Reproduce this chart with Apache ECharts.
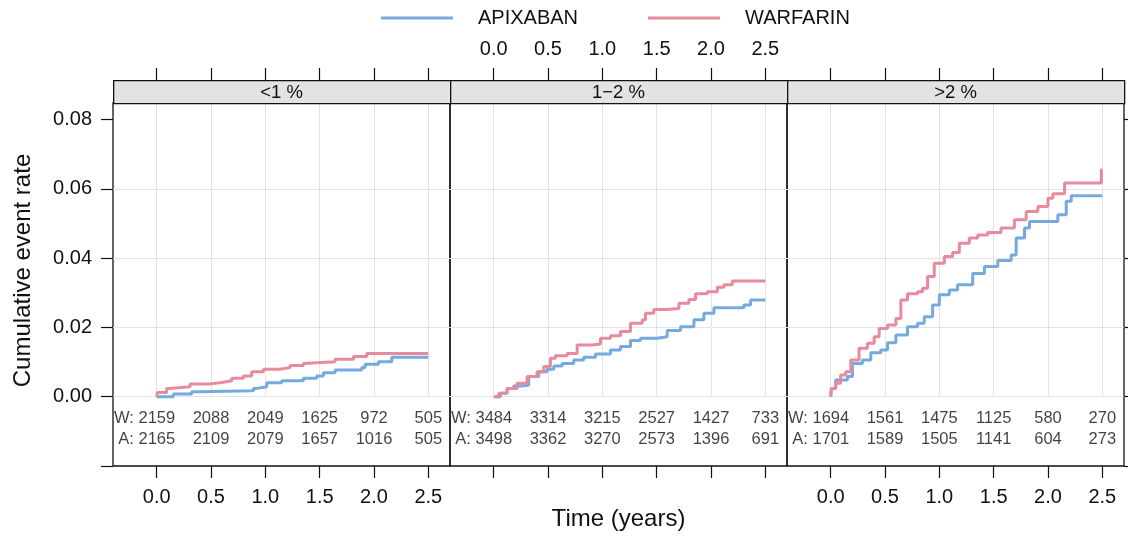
<!DOCTYPE html>
<html>
<head>
<meta charset="UTF-8">
<title>Cumulative event rate</title>
<script src="https://cdn.jsdelivr.net/npm/echarts@6/dist/echarts.min.js"></script>
<style>
html, body { margin: 0; padding: 0; background: #fff; }
#main { width: 1128px; height: 537px; }
</style>
</head>
<body>
<div id="main"></div>
<script>
// panel titles and time ticks
var panels = ['<1 %', '1\u22122 %', '>2 %'];
var times = [0, 0.5, 1, 1.5, 2, 2.5];
var yTicks = [0, 0.02, 0.04, 0.06, 0.08];

// step curves [years, cumulative rate]
var apixLow = [[0,0],[0.153,0.0008],[0.322,0.0014],[0.399,0.0017],[0.890,0.0024],[0.921,0.0029],[1.013,0.0040],[1.151,0.0046],[1.350,0.0053],[1.473,0.0060],[1.535,0.0069],[1.642,0.0077],[1.888,0.0084],[1.918,0.0094],[2.041,0.0101],[2.164,0.0114],[2.5,0.0114]];
var warfLow = [[0,0],[0.006,0.0012],[0.092,0.0024],[0.123,0.0029],[0.307,0.0037],[0.491,0.0041],[0.599,0.0046],[0.691,0.0053],[0.798,0.0060],[0.875,0.0072],[0.982,0.0079],[1.136,0.0084],[1.228,0.0090],[1.350,0.0096],[1.366,0.0101],[1.642,0.0108],[1.811,0.0116],[1.934,0.0125],[2.5,0.0125]];
var apixMid = [[0.015,0],[0.061,0.0010],[0.123,0.0024],[0.184,0.0031],[0.261,0.0034],[0.322,0.0058],[0.415,0.0072],[0.491,0.0079],[0.553,0.0089],[0.630,0.0096],[0.737,0.0106],[0.829,0.0114],[0.937,0.0123],[1.075,0.0135],[1.167,0.0145],[1.259,0.0162],[1.351,0.0169],[1.505,0.0173],[1.597,0.0191],[1.720,0.0202],[1.843,0.0222],[1.935,0.0241],[2.027,0.0257],[2.303,0.0265],[2.365,0.0279],[2.5,0.0279]];
var warfMid = [[0,0],[0.046,0.0010],[0.123,0.0024],[0.215,0.0039],[0.307,0.0058],[0.399,0.0072],[0.461,0.0087],[0.522,0.0111],[0.568,0.0118],[0.676,0.0125],[0.768,0.0149],[0.906,0.0152],[0.983,0.0169],[1.075,0.0176],[1.167,0.0188],[1.259,0.0212],[1.367,0.0222],[1.397,0.0241],[1.474,0.0252],[1.597,0.0255],[1.705,0.0270],[1.797,0.0281],[1.858,0.0297],[1.966,0.0303],[2.058,0.0316],[2.119,0.0323],[2.196,0.0334],[2.5,0.0334]];
var apixHigh = [[0,0],[0.006,0.0024],[0.046,0.0048],[0.154,0.0058],[0.200,0.0096],[0.292,0.0106],[0.369,0.0127],[0.461,0.0135],[0.523,0.0156],[0.600,0.0178],[0.707,0.0202],[0.800,0.0212],[0.861,0.0231],[0.938,0.0265],[1.000,0.0294],[1.092,0.0308],[1.168,0.0323],[1.307,0.0356],[1.415,0.0376],[1.538,0.0393],[1.661,0.0409],[1.707,0.0458],[1.784,0.0487],[1.830,0.0506],[2.091,0.0525],[2.168,0.0564],[2.214,0.0580],[2.5,0.0580]];
var warfHigh = [[0,0],[0.006,0.0024],[0.046,0.0039],[0.092,0.0063],[0.138,0.0072],[0.185,0.0106],[0.261,0.0140],[0.338,0.0154],[0.400,0.0173],[0.446,0.0197],[0.523,0.0207],[0.600,0.0226],[0.646,0.0279],[0.707,0.0297],[0.800,0.0303],[0.846,0.0313],[0.892,0.0347],[0.953,0.0385],[1.046,0.0405],[1.122,0.0416],[1.184,0.0443],[1.276,0.0458],[1.353,0.0467],[1.445,0.0474],[1.568,0.0487],[1.691,0.0511],[1.799,0.0535],[1.907,0.0549],[2.000,0.0573],[2.045,0.0586],[2.153,0.0617],[2.491,0.0655],[2.5,0.0655]];

// numbers at risk at each time tick
var riskW = [[2159,2088,2049,1625,972,505],[3484,3314,3215,2527,1427,733],[1694,1561,1475,1125,580,270]];
var riskA = [[2165,2109,2079,1657,1016,505],[3498,3362,3270,2573,1396,691],[1701,1589,1505,1141,604,273]];

var apix = [apixLow, apixMid, apixHigh];
var warf = [warfLow, warfMid, warfHigh];

var BLUE = '#74aadf', PINK = '#e68a9c', GRIDC = '#e4e4e4', INK = '#111';
var FONT = '"Liberation Sans", Arial, Helvetica, sans-serif';

// layout (px)  -- "top" is a reserved window property, hence plotTop
var left0 = 113, pw = 337, plotTop = 103, zeroY = 396.7, plotBottom = 466, stripTop = 80;
var x0off = 43.7, xw = 271.6;
var yTop = 0.0848, yBot = -0.02;
var rowW = -0.0063, rowA = -0.0124;

var grid = [], xAxis = [], yAxis = [], series = [], graphic = [];

function riskSeries(nums, prefix, yv, xi, yi) {
  return {
    type: 'scatter', xAxisIndex: xi, yAxisIndex: yi, silent: true,
    symbolSize: 1, itemStyle: { color: 'rgba(0,0,0,0)' },
    label: { show: true, position: 'inside', formatter: '{b}', color: INK, fontFamily: FONT, fontSize: 16.5 },
    data: nums.map(function (n, j) {
      var d = { name: String(n), value: [times[j], yv] };
      if (j === 0) { d.name = prefix + ' ' + n; d.label = { align: 'right', offset: [18.5, 0] }; }
      return d;
    })
  };
}

for (var i = 0; i < 3; i++) {
  var L = left0 + i * pw;
  var pxYear = xw / 2.5;
  var g = grid.length;
  grid.push({ left: L, top: plotTop, width: pw, height: plotBottom - plotTop, show: true,
    borderColor: INK, borderWidth: 1.3, backgroundColor: 'transparent', outerBoundsMode: 'none' });
  grid.push({ left: L + x0off, top: plotTop, width: xw, height: zeroY - plotTop, outerBoundsMode: 'none' });

  // frame axes (whole panel)
  var fx = xAxis.length;
  xAxis.push({ gridIndex: g, type: 'value', min: -x0off / pxYear, max: (pw - x0off) / pxYear,
    axisLine: { show: false, onZero: false }, axisTick: { show: false }, axisLabel: { show: false }, splitLine: { show: false },
    name: i === 1 ? 'Time (years)' : '', nameLocation: 'middle', nameGap: 41,
    nameTextStyle: { fontFamily: FONT, fontSize: 24, color: INK } });
  var fy = yAxis.length;
  yAxis.push({ gridIndex: g, type: 'value', min: yBot, max: yTop, interval: 0.02,
    position: i === 2 ? 'right' : 'left',
    axisLine: { show: false, onZero: false },
    axisTick: { show: i !== 1, customValues: [yBot].concat(yTicks), length: 12, lineStyle: { color: INK, width: 1.2 } },
    axisLabel: { show: i === 0, customValues: yTicks, margin: 21, color: INK, fontFamily: FONT, fontSize: 20,
      formatter: function (v) { return v.toFixed(2); } },
    splitLine: { show: true, showMinLine: false, showMaxLine: false, lineStyle: { color: GRIDC, width: 1 } },
    name: i === 0 ? 'Cumulative event rate' : '', nameLocation: 'middle', nameGap: 78,
    nameTextStyle: { fontFamily: FONT, fontSize: 24, color: INK, padding: [0, 0, 0, 28] } });

  // data axes (0..2.5 years, rate >= 0)
  var dx = xAxis.length;
  xAxis.push({ gridIndex: g + 1, type: 'value', min: 0, max: 2.5, interval: 0.5, position: 'bottom',
    offset: plotBottom - zeroY,
    axisLine: { show: false, onZero: false },
    axisTick: { show: true, length: 12, lineStyle: { color: INK, width: 1.2 } },
    axisLabel: { show: i !== 1, margin: 21, color: INK, fontFamily: FONT, fontSize: 20,
      formatter: function (v) { return v.toFixed(1); } },
    splitLine: { show: true, lineStyle: { color: GRIDC, width: 1 } } });
  xAxis.push({ gridIndex: g + 1, type: 'value', min: 0, max: 2.5, interval: 0.5, position: 'top',
    offset: plotTop - stripTop,
    axisLine: { show: false, onZero: false },
    axisTick: { show: true, length: 12, lineStyle: { color: INK, width: 1.2 } },
    axisLabel: { show: i === 1, margin: 21, color: INK, fontFamily: FONT, fontSize: 20,
      formatter: function (v) { return v.toFixed(1); } },
    splitLine: { show: false } });
  var dy = yAxis.length;
  yAxis.push({ gridIndex: g + 1, type: 'value', min: 0, max: yTop, show: false,
    axisLine: { onZero: false }, splitLine: { show: false } });

  series.push({ name: 'APIXABAN', type: 'line', step: 'end', xAxisIndex: dx, yAxisIndex: dy,
    symbol: 'none', clip: false, color: BLUE, lineStyle: { color: BLUE, width: 3 }, data: apix[i] });
  series.push({ name: 'WARFARIN', type: 'line', step: 'end', xAxisIndex: dx, yAxisIndex: dy,
    symbol: 'none', clip: false, color: PINK, lineStyle: { color: PINK, width: 3 }, data: warf[i] });
  series.push(riskSeries(riskW[i], 'W:', rowW, fx, fy));
  series.push(riskSeries(riskA[i], 'A:', rowA, fx, fy));

  // strip
  graphic.push({ type: 'rect', left: L, top: stripTop, z: 10,
    shape: { width: pw, height: plotTop - stripTop },
    style: { fill: '#e3e3e3', stroke: INK, lineWidth: 1.3 } });
  graphic.push({ type: 'text', x: L + pw / 2, y: (stripTop + plotTop) / 2 + 1, z: 11,
    style: { text: panels[i], fill: INK, font: '18.5px ' + FONT, align: 'center', verticalAlign: 'middle' } });
}

var chart = echarts.init(document.getElementById('main'));
chart.setOption({
  animation: false,
  backgroundColor: '#fff',
  legend: {
    data: ['APIXABAN', 'WARFARIN'], left: 376, top: 3,
    icon: 'rect', itemWidth: 72, itemHeight: 3, itemGap: 70,
    textStyle: { fontFamily: FONT, fontSize: 20, color: INK, padding: [0, 0, 0, 20] }
  },
  grid: grid,
  xAxis: xAxis,
  yAxis: yAxis,
  series: series,
  graphic: graphic
});
</script>
</body>
</html>
